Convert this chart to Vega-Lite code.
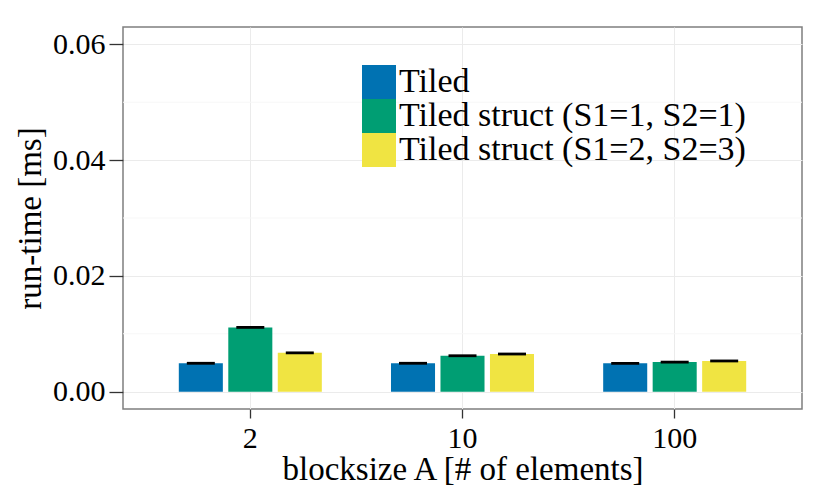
{
  "$schema": "https://vega.github.io/schema/vega-lite/v6.json",
  "width": 679,
  "height": 382,
  "autosize": {"type": "none"},
  "padding": {"left": 123, "top": 27, "right": 28, "bottom": 89},
  "background": "white",
  "config": {
    "font": "Liberation Serif",
    "view": {"stroke": "#7f7f7f", "strokeWidth": 1.5},
    "axis": {
      "labelFont": "Liberation Serif",
      "titleFont": "Liberation Serif",
      "labelFontSize": 30,
      "titleFontSize": 33,
      "labelColor": "black",
      "titleColor": "black",
      "titleFontWeight": "normal",
      "domain": false,
      "tickColor": "#333333",
      "tickWidth": 1.3,
      "gridColor": "#ebebeb",
      "gridWidth": 1
    }
  },
  "data": {
    "values": [
      {"bs": "2", "impl": "Tiled", "value": 0.0049},
      {"bs": "2", "impl": "Tiled struct (S1=1, S2=1)", "value": 0.0111},
      {"bs": "2", "impl": "Tiled struct (S1=2, S2=3)", "value": 0.0067},
      {"bs": "10", "impl": "Tiled", "value": 0.0049},
      {"bs": "10", "impl": "Tiled struct (S1=1, S2=1)", "value": 0.0062},
      {"bs": "10", "impl": "Tiled struct (S1=2, S2=3)", "value": 0.0065},
      {"bs": "100", "impl": "Tiled", "value": 0.0049},
      {"bs": "100", "impl": "Tiled struct (S1=1, S2=1)", "value": 0.0051},
      {"bs": "100", "impl": "Tiled struct (S1=2, S2=3)", "value": 0.0053}
    ]
  },
  "layer": [
    {
      "data": {"values": [{"v": 0.01}, {"v": 0.03}, {"v": 0.05}]},
      "mark": {"type": "rule", "color": "#f7f7f7", "strokeWidth": 1},
      "encoding": {
        "y": {
          "field": "v", "type": "quantitative",
          "scale": {"domain": [-0.003, 0.063], "nice": false, "zero": false},
          "axis": {"values": [0, 0.02, 0.04, 0.06], "format": ".2f", "title": "run-time [ms]", "tickSize": 14, "labelPadding": 4, "titlePadding": 5}
        }
      }
    },
    {
      "mark": {"type": "bar"},
      "encoding": {
        "x": {
          "field": "bs", "type": "nominal", "sort": ["2", "10", "100"],
          "scale": {"paddingInner": 0.326, "paddingOuter": 0.263},
          "axis": {"grid": true, "labelAngle": 0, "tickSize": 9, "labelPadding": 5, "title": "blocksize A [# of elements]", "titlePadding": 0}
        },
        "xOffset": {
          "field": "impl", "type": "nominal",
          "scale": {"paddingInner": 0.11, "paddingOuter": 0}
        },
        "y": {
          "field": "value", "type": "quantitative",
          "scale": {"domain": [-0.003, 0.063], "nice": false, "zero": false},
          "axis": {"values": [0, 0.02, 0.04, 0.06], "format": ".2f", "title": "run-time [ms]", "tickSize": 14, "labelPadding": 4, "titlePadding": 5}
        },
        "color": {
          "field": "impl", "type": "nominal",
          "scale": {
            "domain": ["Tiled", "Tiled struct (S1=1, S2=1)", "Tiled struct (S1=2, S2=3)"],
            "range": ["#0072B2", "#009E73", "#F0E442"]
          },
          "legend": {
            "orient": "none", "legendX": 239, "legendY": 38, "title": null,
            "symbolType": "square", "symbolSize": 1156, "symbolStrokeWidth": 0, "symbolOpacity": 1,
            "labelFontSize": 34, "labelFont": "Liberation Serif", "labelColor": "black",
            "rowPadding": 0, "labelOffset": 3, "labelLimit": 600, "padding": 0
          }
        }
      }
    },
    {
      "mark": {"type": "tick", "color": "black", "size": 28, "thickness": 2.8, "opacity": 1},
      "encoding": {
        "x": {"field": "bs", "type": "nominal", "sort": ["2", "10", "100"]},
        "xOffset": {"field": "impl", "type": "nominal"},
        "y": {"field": "value", "type": "quantitative"}
      }
    }
  ]
}
